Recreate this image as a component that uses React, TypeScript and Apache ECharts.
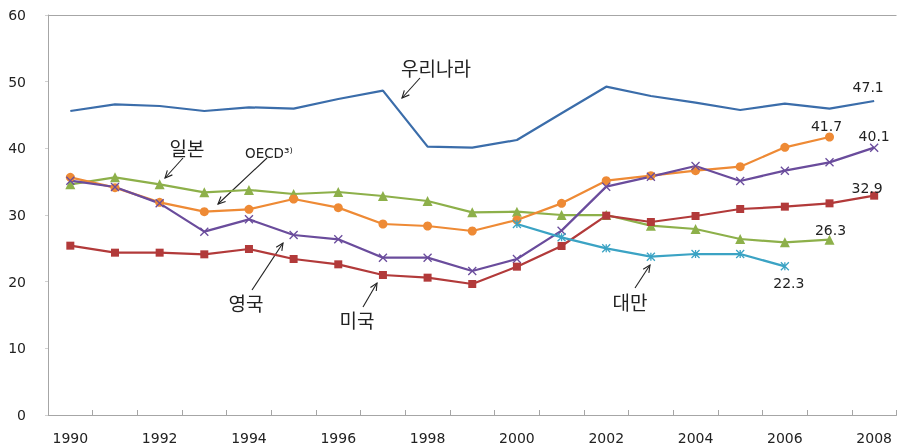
import React, { useEffect, useRef } from "react";
import * as echarts from "echarts";

const years = ["1990","1991","1992","1993","1994","1995","1996","1997","1998","1999","2000","2001","2002","2003","2004","2005","2006","2007","2008"];
const korea = [45.6,46.6,46.35,45.6,46.15,45.95,47.4,48.65,40.25,40.1,41.25,45.25,49.25,47.85,46.85,45.75,46.7,45.95,47.1];
const oecd = [35.65,34.1,31.9,30.5,30.85,32.4,31.1,28.65,28.35,27.6,29.25,31.75,35.15,35.9,36.65,37.25,40.15,41.7,null];
const japan = [34.6,35.65,34.6,33.4,33.75,33.15,33.45,32.85,32.1,30.4,30.5,30.0,30.0,28.4,27.9,26.4,25.9,26.3,null];
const uk = [35.15,34.2,31.75,27.5,29.35,27.0,26.35,23.6,23.6,21.6,23.4,27.65,34.25,35.75,37.35,35.1,36.65,37.9,40.1];
const usa = [25.4,24.35,24.35,24.1,24.9,23.4,22.6,21.0,20.6,19.65,22.25,25.35,29.9,28.95,29.85,30.9,31.25,31.75,32.9];
const taiwan = [null,null,null,null,null,null,null,null,null,null,28.65,26.65,25.0,23.75,24.15,24.15,22.3,null,null];

const NUM_FONT = "DejaVu Sans";
const KR_FONT = "Noto Sans CJK KR";

function withLabel(values: (number | null)[], idx: number, offset: number[]) {
  return values.map((v, i) =>
    i === idx
      ? {
          value: v,
          label: {
            show: true,
            position: "inside",
            offset,
            formatter: String(v),
            fontFamily: NUM_FONT,
            fontSize: 14,
            color: "#222",
          },
        }
      : v
  );
}

function arrow(x1: number, y1: number, x2: number, y2: number) {
  const ang = Math.atan2(y2 - y1, x2 - x1);
  const L = 8;
  const a = (25 * Math.PI) / 180;
  const p1 = [x2 - L * Math.cos(ang - a), y2 - L * Math.sin(ang - a)];
  const p2 = [x2 - L * Math.cos(ang + a), y2 - L * Math.sin(ang + a)];
  const style = { stroke: "#222", lineWidth: 1.1, fill: "none" };
  return [
    { type: "line", shape: { x1, y1, x2, y2 }, style, silent: true },
    { type: "polyline", shape: { points: [p1, [x2, y2], p2] }, style, silent: true },
  ];
}

function krText(x: number, y: number, text: string) {
  return {
    type: "text",
    x,
    y,
    style: {
      text,
      fontFamily: KR_FONT,
      fontSize: 19,
      fill: "#222",
      align: "center",
      verticalAlign: "middle",
    },
    silent: true,
  };
}

export default function App() {
  const ref = useRef<HTMLDivElement>(null);
  useEffect(() => {
    if (!ref.current) return;
    const chart = echarts.init(ref.current, null, { renderer: "svg" });
    const mk = (name: string, color: string, data: any[], symbol: string, size: number, hollow = false) => ({
      name,
      type: "line",
      data,
      symbol,
      symbolSize: size,
      showSymbol: true,
      connectNulls: false,
      lineStyle: { color, width: 2.25 },
      itemStyle: hollow
        ? { color: "none", borderColor: color, borderWidth: 1.3 }
        : { color, borderWidth: 0 },
      emphasis: { disabled: true },
      z: 3,
    });
    const crossPath = "path://M0 0L10 10M10 0L0 10";
    const starPath = "path://M0 0L10 10M10 0L0 10M5 0L5 10";
    chart.setOption({
      animation: false,
      grid: { left: 48, right: 0.5, top: 15, bottom: 31, containLabel: false },
      xAxis: {
        type: "category",
        data: years,
        boundaryGap: true,
        axisLine: { show: true, lineStyle: { color: "#a6a6a6", width: 1 } },
        axisTick: { show: true, inside: true, length: 5, interval: 0, lineStyle: { color: "#a6a6a6" } },
        axisLabel: { interval: 1, fontFamily: NUM_FONT, fontSize: 14, color: "#222", margin: 16 },
        splitLine: { show: false },
      },
      yAxis: {
        type: "value",
        min: 0,
        max: 60,
        interval: 10,
        axisLine: { show: true, lineStyle: { color: "#a6a6a6", width: 1 } },
        axisTick: { show: true, length: 3, lineStyle: { color: "#d0d0d0" } },
        axisLabel: { fontFamily: NUM_FONT, fontSize: 14, color: "#222", margin: 22 },
        splitLine: { show: false },
      },
      series: [
        {
          ...mk("우리나라", "#3b6daa", withLabel(korea, 18, [-6, -14]), "circle", 0.01, true),
          itemStyle: { color: "none", borderWidth: 0, opacity: 1 },
          markLine: {
            silent: true,
            symbol: "none",
            label: { show: false },
            lineStyle: { color: "#a6a6a6", width: 1, type: "solid" },
            data: [{ yAxis: 60 }],
          },
        },
        mk("일본", "#8db04a", withLabel(japan, 17, [1, -10]), "triangle", 10),
        mk("OECD", "#ee8a35", withLabel(oecd, 17, [-3, -11]), "circle", 9),
        mk("영국", "#6a4c9c", withLabel(uk, 18, [0, -12]), crossPath, 8, true),
        mk("미국", "#b23a3a", withLabel(usa, 18, [-7, -8]), "rect", 8),
        mk("대만", "#3ba3c4", withLabel(taiwan, 16, [4, 17]), starPath, 8, true),
      ],
      graphic: [
        krText(436, 67, "우리나라"),
        ...arrow(420, 78, 402, 98),
        krText(187, 147, "일본"),
        ...arrow(183, 158, 165, 178),
        {
          type: "text",
          x: 245,
          y: 153,
          style: { text: "OECD³⁾", fontFamily: NUM_FONT, fontSize: 13.5, fill: "#222", align: "left", verticalAlign: "middle" },
          silent: true,
        },
        ...arrow(267, 158, 218, 204),
        krText(246, 302, "영국"),
        ...arrow(252, 290, 283, 243),
        krText(357, 319, "미국"),
        ...arrow(363, 307, 377, 283),
        krText(630, 301, "대만"),
        ...arrow(635, 288, 650, 265),
      ],
    });
    return () => chart.dispose();
  }, []);
  return <div ref={ref} style={{ position: "fixed", left: 0, top: 0, width: 897, height: 446 }} />;
}
